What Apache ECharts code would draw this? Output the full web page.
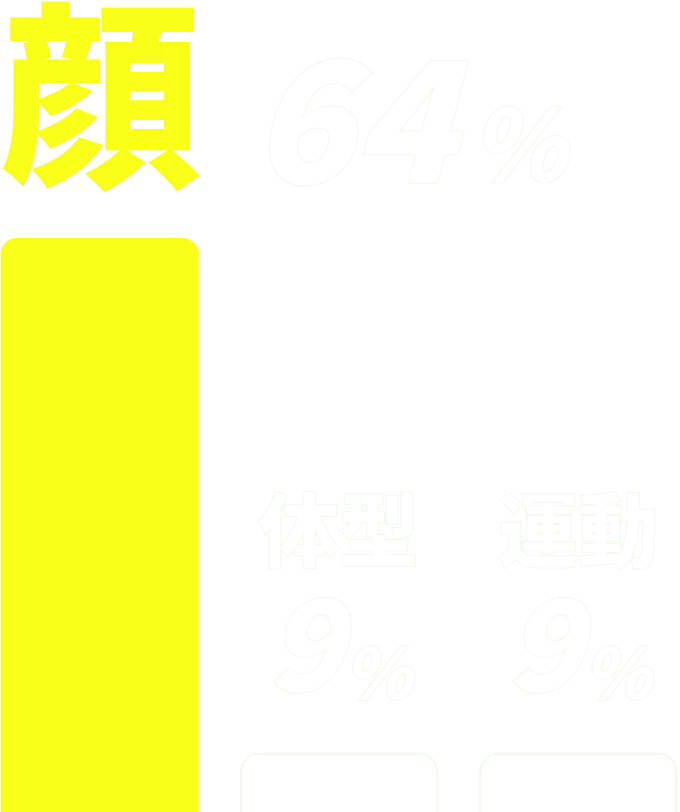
<!DOCTYPE html>
<html>
<head>
<meta charset="utf-8">
<style>
  html, body { margin: 0; padding: 0; background: #ffffff; }
  #chart { width: 680px; height: 812px; }
</style>
<script src="https://cdn.jsdelivr.net/npm/echarts@6/dist/echarts.min.js"></script>
</head>
<body>
<div id="chart"></div>
<script>
// 数据
var categories = ['顔', '体型', '運動'];
var values = [64, 9, 9];

var YELLOW = '#FAFF19';
var FAINT = '#F1F8EC';

var chart = echarts.init(document.getElementById('chart'));

var numStyle = {
    color: '#ffffff',
    fontFamily: 'Noto Sans CJK JP',
    fontWeight: 900,
    fontStyle: 'italic',
    textBorderColor: FAINT,
    textBorderWidth: 2
};

var barData = values.map(function (v, i) {
    if (i === 0) {
        // 第一根柱子：标签横排在左上方
        return {
            value: v,
            itemStyle: { color: YELLOW, borderRadius: [16, 16, 0, 0] },
            label: {
                position: [0, -35],
                align: 'left',
                verticalAlign: 'bottom',
                formatter: function (p) {
                    return '{n|' + p.name + '}{v|' + p.value + '}{p|%}';
                },
                rich: {
                    n: {
                        fontSize: 200, color: YELLOW, fontWeight: 900,
                        fontFamily: 'Noto Sans CJK JP', lineHeight: 200,
                        padding: [0, 50, 15, 0]
                    },
                    v: Object.assign({}, numStyle, { fontSize: 168, verticalAlign: 'bottom' }),
                    p: Object.assign({}, numStyle, { fontSize: 98, verticalAlign: 'bottom', padding: [0, 0, 10, 14] })
                }
            }
        };
    }
    return {
        value: v,
        itemStyle: {
            color: '#ffffff',
            borderColor: FAINT,
            borderWidth: 2,
            borderRadius: [18, 18, 0, 0]
        },
        label: {
            position: 'top',
            distance: 45,
            formatter: function (p) {
                return '{n|' + p.name + '}\n{v|' + p.value + '}{p|%}';
            },
            rich: {
                n: {
                    fontSize: 80, color: '#ffffff', fontWeight: 900,
                    fontFamily: 'Noto Sans CJK JP', lineHeight: 96,
                    textBorderColor: FAINT, textBorderWidth: 2
                },
                v: Object.assign({}, numStyle, { fontSize: 126, lineHeight: 130 }),
                p: Object.assign({}, numStyle, { fontSize: 70, lineHeight: 96, verticalAlign: 'bottom' })
            }
        }
    };
});

var option = {
    backgroundColor: '#ffffff',
    animation: false,
    grid: {
        left: -20,
        right: -18,
        top: 238,
        bottom: -25,
        outerBoundsMode: 'none'
    },
    xAxis: {
        type: 'category',
        data: categories,
        show: false
    },
    yAxis: {
        type: 'value',
        min: 0,
        max: 64,
        show: false
    },
    series: [
        {
            type: 'bar',
            barWidth: 198,
            data: barData,
            label: { show: true }
        }
    ]
};

chart.setOption(option);
</script>
</body>
</html>
